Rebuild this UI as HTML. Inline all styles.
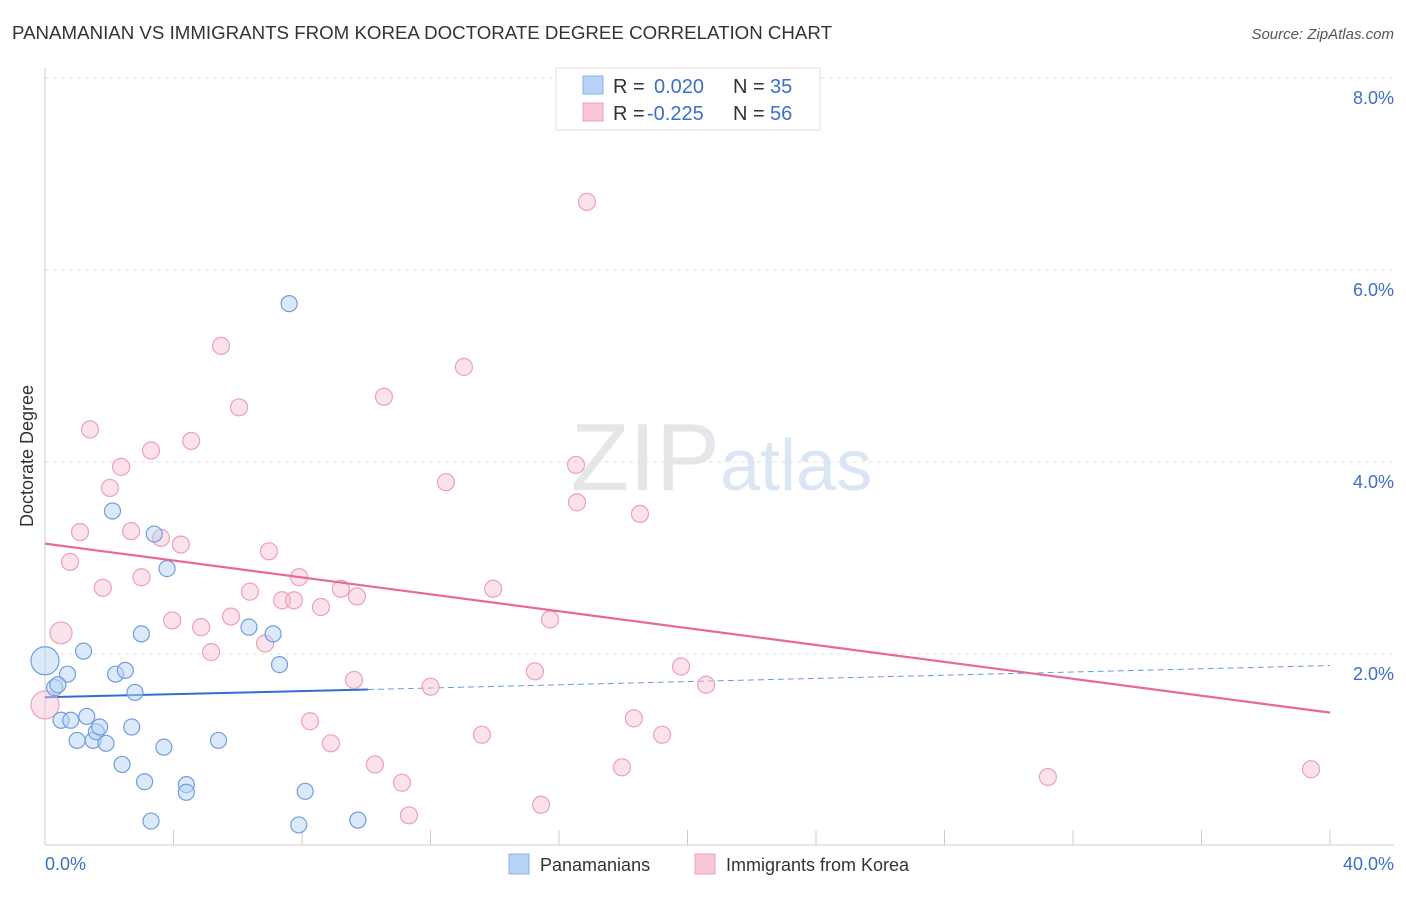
<!DOCTYPE html>
<html><head><meta charset="utf-8"><style>
body{margin:0;background:#fff;font-family:"Liberation Sans",sans-serif;}
svg text{font-family:"Liberation Sans",sans-serif;}
</style></head><body>
<svg id="chart" width="1406" height="892" xmlns="http://www.w3.org/2000/svg">
<text x="12" y="39" font-size="18" fill="#333" textLength="820" lengthAdjust="spacingAndGlyphs">PANAMANIAN VS IMMIGRANTS FROM KOREA DOCTORATE DEGREE CORRELATION CHART</text>
<text x="1394" y="39" font-size="15" fill="#555" text-anchor="end" font-style="italic">Source: ZipAtlas.com</text>
<text x="33" y="456" font-size="18" fill="#333" text-anchor="middle" transform="rotate(-90 33 456)">Doctorate Degree</text>
<text x="720" y="490" font-size="96" fill="#e6e6ea" text-anchor="end" font-family="Liberation Serif">ZIP</text>
<text x="720" y="490" font-size="72" fill="#dbe6f5">atlas</text>
<g id="grid"></g><g id="xticks"></g>
<g id="trends"></g><g id="points"></g>
<g>
<rect x="556" y="68" width="264" height="62" fill="#fff" stroke="#ddd"/>
<rect x="583" y="76" width="20" height="18" fill="#b8d3f5" stroke="#8ab2e8"/>
<rect x="583" y="103" width="20" height="18" fill="#f9c7d6" stroke="#eda0b8"/>
<text x="613" y="93" font-size="20" fill="#333">R =</text><text x="654" y="93" font-size="20" fill="#3a70c8">0.020</text>
<text x="733" y="93" font-size="20" fill="#333">N =</text><text x="770" y="93" font-size="20" fill="#3a70c8">35</text>
<text x="613" y="120" font-size="20" fill="#333">R =</text><text x="647" y="120" font-size="20" fill="#3a70c8">-0.225</text>
<text x="733" y="120" font-size="20" fill="#333">N =</text><text x="770" y="120" font-size="20" fill="#3a70c8">56</text>
</g>
<g>
<rect x="509" y="854" width="20" height="20" fill="#b8d3f5" stroke="#8ab2e8"/>
<text x="540" y="871" font-size="18" fill="#333">Panamanians</text>
<rect x="695" y="854" width="20" height="20" fill="#f9c7d6" stroke="#eda0b8"/>
<text x="726" y="871" font-size="18" fill="#333">Immigrants from Korea</text>
</g>
<text x="45" y="870" font-size="18" fill="#3a70c8">0.0%</text>
<text x="1394" y="870" font-size="18" fill="#3a70c8" text-anchor="end">40.0%</text>
</svg>
<script>
const yTicks=[2,4,6,8];
const yTickLabels=["2.0%","4.0%","6.0%","8.0%"];
const xTicks=[0,4,8,12,16,20,24,28,32,36,40];
const blueX=[0,0.3,0.7,0.4,0.5,0.8,1.2,1.0,1.3,1.5,1.6,1.7,1.9,2.1,2.2,2.4,2.5,2.7,2.8,3.0,3.1,3.3,3.4,3.7,3.8,4.4,4.4,5.4,6.35,7.1,7.3,7.6,7.9,8.1,9.74];
const blueY=[1.94,1.66,1.80,1.69,1.32,1.32,2.04,1.11,1.36,1.11,1.20,1.25,1.08,3.50,1.80,0.86,1.84,1.25,1.61,2.22,0.68,0.27,3.26,1.04,2.90,0.65,0.57,1.11,2.29,2.22,1.90,5.66,0.23,0.58,0.28];
const pinkX=[0,0.5,0.78,1.09,1.4,1.8,2.02,2.37,2.68,3.0,3.3,3.61,3.96,4.23,4.55,4.86,5.17,5.48,5.79,6.04,6.38,6.85,6.97,7.38,7.75,7.91,8.25,8.59,8.9,9.21,9.62,9.71,10.27,10.55,11.11,11.33,12.0,12.48,13.04,13.6,13.95,15.25,15.44,15.72,16.53,16.56,16.87,17.96,18.33,18.52,18.95,19.21,19.8,20.58,31.22,39.41];
const pinkY=[1.48,2.23,2.97,3.28,4.35,2.70,3.74,3.96,3.29,2.81,4.13,3.22,2.36,3.15,4.23,2.29,2.03,5.22,2.40,4.58,2.66,2.12,3.08,2.57,2.57,2.81,1.31,2.50,1.08,2.69,1.74,2.61,0.86,4.69,0.67,0.33,1.67,3.80,5.00,1.17,2.69,1.83,0.44,2.37,3.98,3.59,6.72,0.83,1.34,3.47,7.66,1.17,1.88,1.69,0.73,0.81];
const blueSizes=[1,0,0,0,0,0,0,0,0,0,0,0,0,0,0,0,0,0,0,0,0,0,0,0,0,0,0,0,0,0,0,0,0,0,0];
const blueTrend=[[0,1.56],[10.05,1.64]];
const blueTrendExt=[[10.05,1.64],[40,1.89]];
const pinkTrend=[[0,3.16],[40,1.40]];
const X=v=>45+v*32.125, Y=v=>847-v*96;
const NS="http://www.w3.org/2000/svg";
function mk(t,a,p){const e=document.createElementNS(NS,t);for(const k in a)e.setAttribute(k,a[k]);p.appendChild(e);return e;}
const grid=document.getElementById('grid');
yTicks.forEach((t,i)=>{
 const l=mk('line',{x1:45,x2:1394,y1:Y(t)-1,y2:Y(t)-1,stroke:'#e2e2e2','stroke-dasharray':'4,4'},grid);
 
 
 const tx=mk('text',{x:1394,y:Y(t)+25,'font-size':18,fill:'#3a70c8','text-anchor':'end'},grid);
 tx.textContent=yTickLabels[i];
 
 
});
const xt=document.getElementById('xticks');
const ax=mk('line',{x1:45,x2:1394,y1:845,y2:845,stroke:'#ccc'},xt);


const ay=mk('line',{x1:45,x2:45,y1:68,y2:845,stroke:'#ccc'},xt);


xTicks.forEach(t=>{const l=mk('line',{x1:X(t),x2:X(t),y1:830,y2:845,stroke:'#ccc'},xt);
 
 });
const tr=document.getElementById('trends');
const l1=mk('line',{x1:X(blueTrend[0][0]),y1:Y(blueTrend[0][1]),x2:X(blueTrend[1][0]),y2:Y(blueTrend[1][1]),stroke:'#2f6fd0','stroke-width':2},tr);


const l2=mk('line',{x1:X(blueTrendExt[0][0]),y1:Y(blueTrendExt[0][1]),x2:X(blueTrendExt[1][0]),y2:Y(blueTrendExt[1][1]),stroke:'#6a98db','stroke-width':1,'stroke-dasharray':'6,4'},tr);


const pts=document.getElementById('points');
pinkX.forEach((v,i)=>{const r=(i<2)?(i==0?14:11):8.5;
 const c=mk('circle',{cx:X(v),cy:Y(pinkY[i]),r:r,fill:'rgba(249,190,208,0.45)',stroke:'#eda0b8','stroke-width':1.2},pts);
 
 });
blueX.forEach((v,i)=>{const r=blueSizes[i]?14:8;
 const c=mk('circle',{cx:X(v),cy:Y(blueY[i]),r:r,fill:'rgba(184,211,245,0.5)',stroke:'#6f9ee0','stroke-width':1.2},pts);
 
 });
const l3=mk('line',{x1:X(pinkTrend[0][0]),y1:Y(pinkTrend[0][1]),x2:X(pinkTrend[1][0]),y2:Y(pinkTrend[1][1]),stroke:'#e8689a','stroke-width':2.2},pts);


</script>
</body></html>
